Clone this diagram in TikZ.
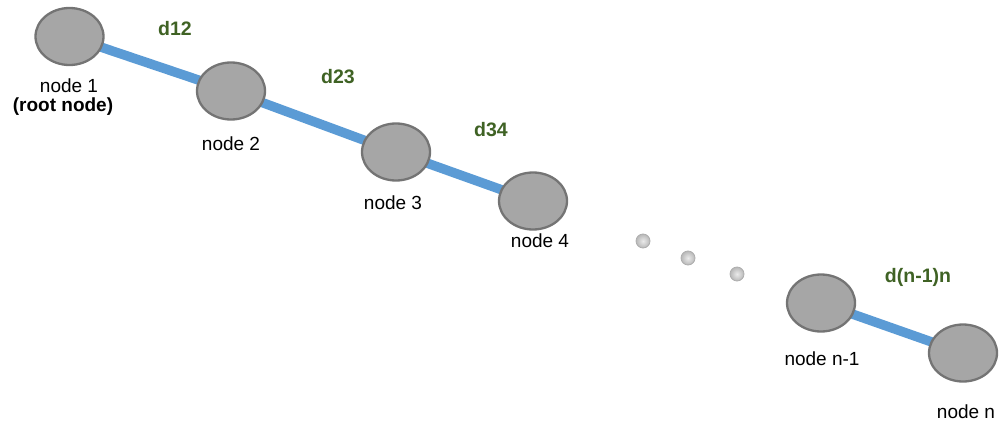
\documentclass[tikz,border=0pt]{standalone}
\usepackage{fontspec}
\setmainfont{Liberation Sans}
\usetikzlibrary{backgrounds,shapes.geometric}
\definecolor{nodefill}{HTML}{A6A6A6}
\definecolor{nodeline}{HTML}{747474}
\definecolor{linkblue}{HTML}{5B9BD5}
\definecolor{distgreen}{HTML}{3F6224}
\tikzset{
  vertex/.style={ellipse, draw=nodeline, fill=nodefill, line width=2.3pt,
    minimum width=68pt, minimum height=57pt, inner sep=0pt},
  link/.style={draw=linkblue, line width=9.5pt},
  dist/.style={text=distgreen, font=\fontsize{19.5}{22}\selectfont\bfseries, inner sep=0pt},
  caption/.style={font=\fontsize{19}{22}\selectfont, inner sep=0pt},
  gap/.style={circle, draw=black!32, line width=0.8pt, inner sep=0pt,
    minimum size=14pt, inner color=black!8, outer color=black!28},
}
\begin{document}
\begin{tikzpicture}[x=1pt, y=-1pt]
\useasboundingbox (0,0) rectangle (1000,423);

% chain of nodes
\node[vertex] (n1) at (69.5,36.5) {};
\node[vertex] (n2) at (231,91) {};
\node[vertex] (n3) at (396,152) {};
\node[vertex] (n4) at (533,201) {};
\node[vertex] (nm) at (821,303) {};
\node[vertex] (nn) at (963,353) {};

% links between neighbouring nodes
\begin{pgfonlayer}{background}
\draw[link] (n1.center) -- (n2.center);
\draw[link] (n2.center) -- (n3.center);
\draw[link] (n3.center) -- (n4.center);
\draw[link] (nm.center) -- (nn.center);
\end{pgfonlayer}

% ellipsis
\node[gap] (g1) at (643,241) {};
\node[gap] (g2) at (688,258) {};
\node[gap] (g3) at (737,274) {};

% node captions
\node[caption] (c1) at (69,86) {node 1};
\node[caption, font=\fontsize{19}{22}\selectfont\bfseries] (c1b) at (63,107) {(root node)};
\node[caption] (c2) at (231,144) {node 2};
\node[caption] (c3) at (393,203) {node 3};
\node[caption] (c4) at (540,241) {node 4};
\node[caption] (cm) at (822,359) {node n-1};
\node[caption] (cn) at (966,412) {node n};

% distance labels
\node[dist] (d12) at (175,29) {d12};
\node[dist] (d23) at (338,77) {d23};
\node[dist] (d34) at (491,130) {d34};
\node[dist] (dnn) at (918,277) {d(n-1)n};
\end{tikzpicture}
\end{document}
